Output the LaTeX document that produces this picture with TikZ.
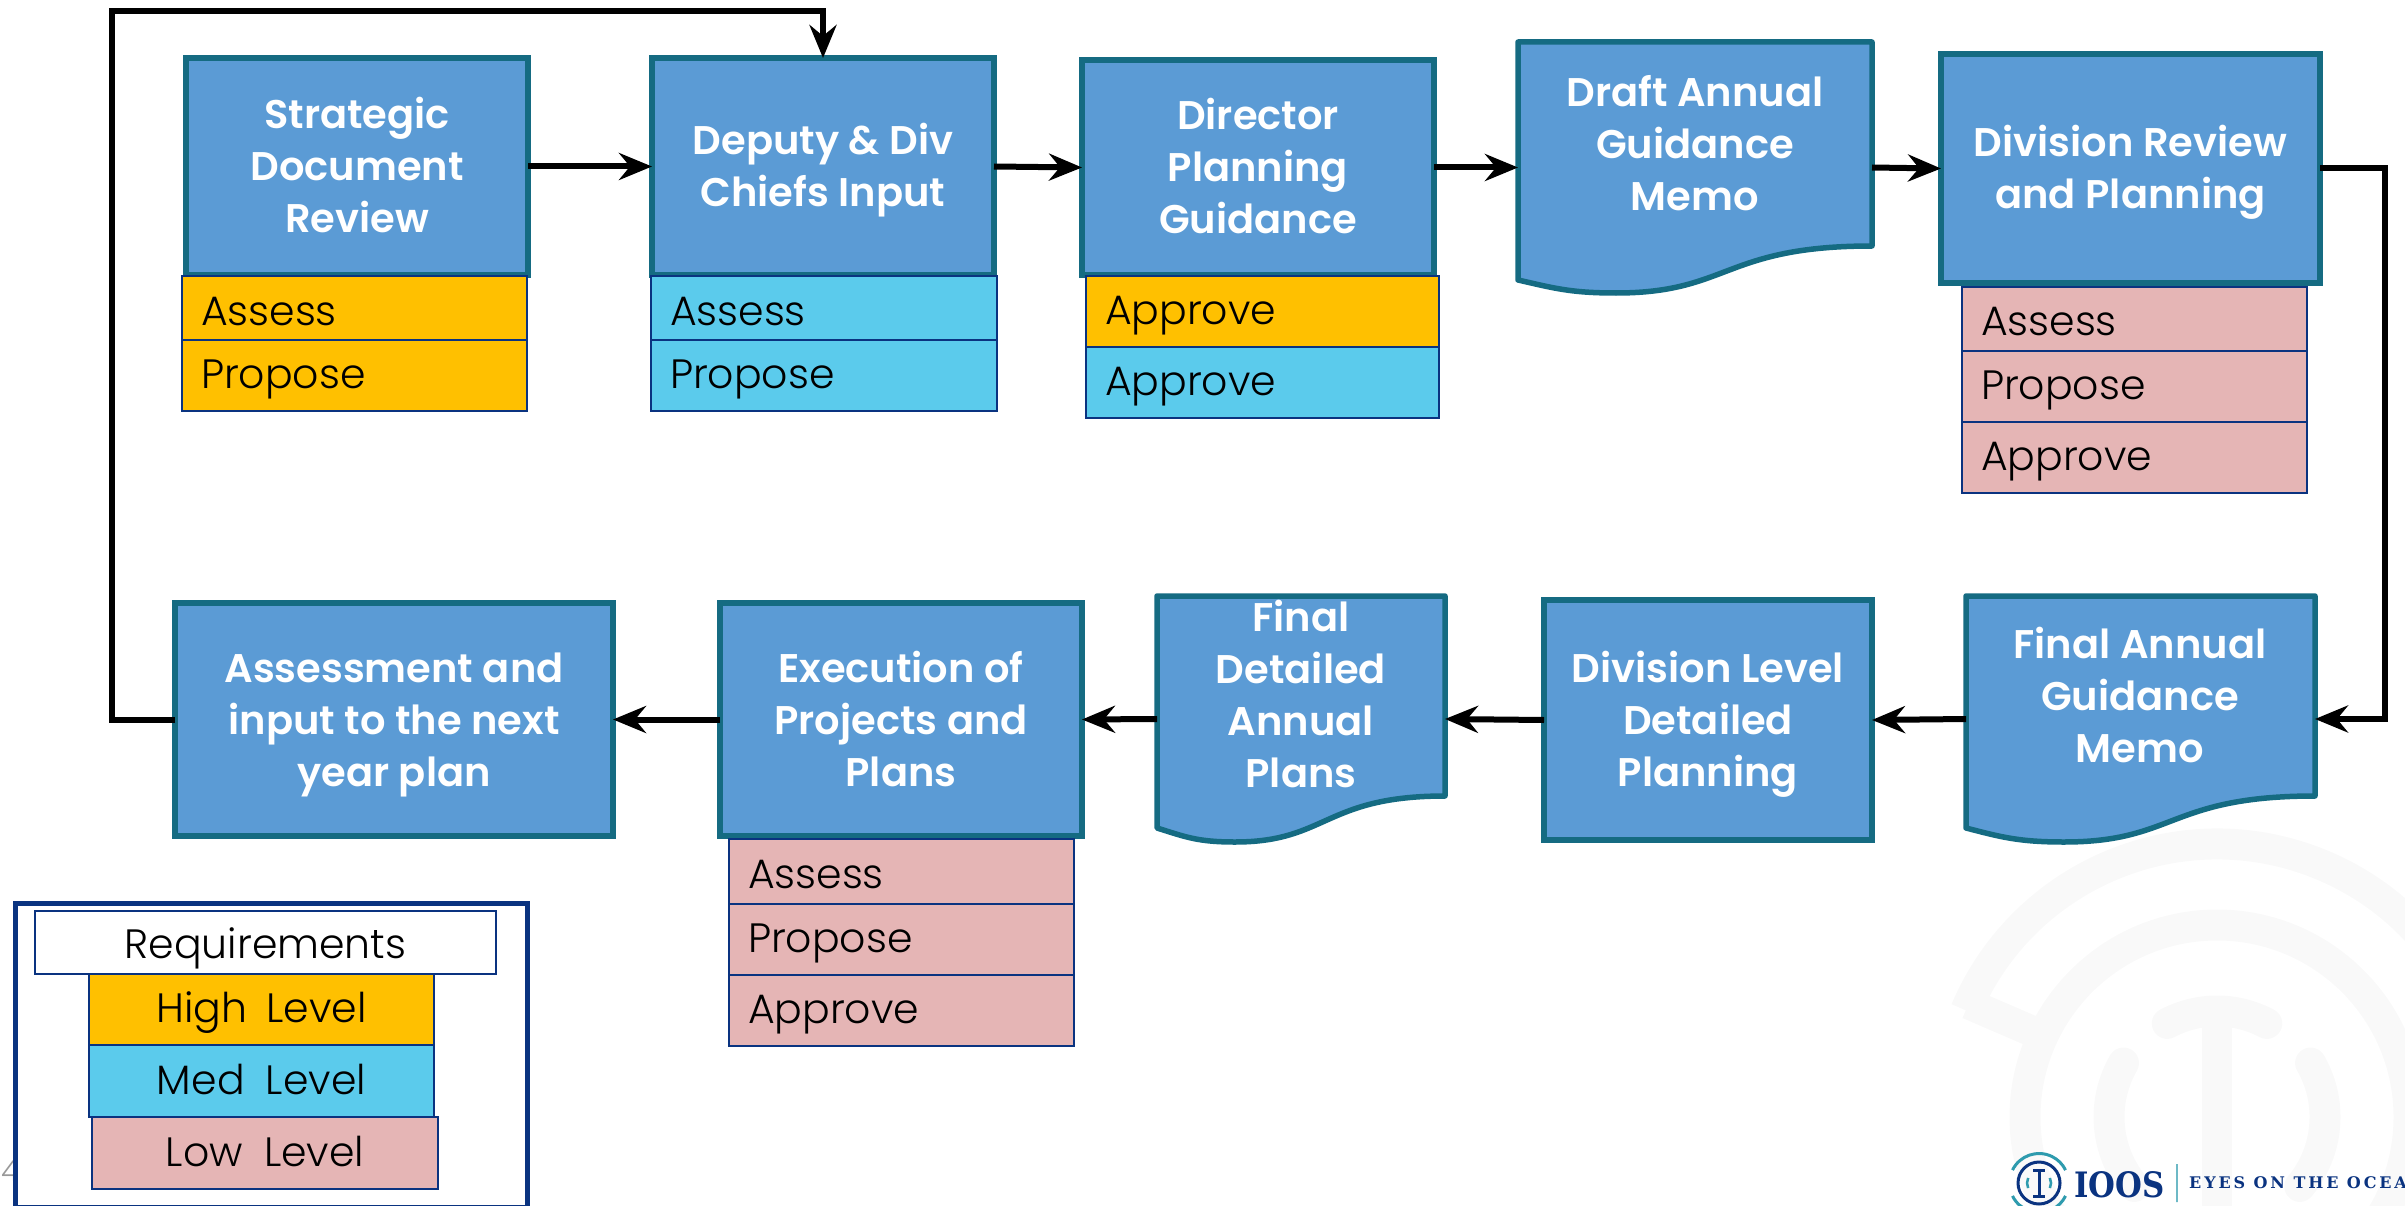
\documentclass[tikz,border=0pt]{standalone}
\usepackage{fontspec}
\setmainfont{Poppins Light}
\newfontfamily\headf{Poppins SemiBold}
\newfontfamily\logofont{DejaVu Serif}
\usetikzlibrary{arrows.meta}
\definecolor{boxfill}{HTML}{5B9BD5}
\definecolor{boxline}{HTML}{156B82}
\definecolor{navy}{HTML}{0A3380}
\definecolor{hi}{HTML}{FFC000}
\definecolor{med}{HTML}{5BCBEC}
\definecolor{lo}{HTML}{E5B5B5}
\definecolor{wm}{HTML}{F9F9F9}
\definecolor{logoteal}{HTML}{2E9BAE}
\newcommand{\capline}[1]{\rule[-11.5pt]{0pt}{52pt}#1}
\newcommand{\nudge}[2]{\raisebox{#1pt}{#2}}
\tikzset{
  boxtext/.style={font=\fontsize{40}{52}\selectfont\headf,text=white,align=center,inner sep=0pt},
  proc/.style={boxtext,draw=boxline,fill=boxfill,line width=5.5pt,outer sep=0pt,miter limit=10},
  memoshape/.style={draw=boxline,fill=boxfill,line width=5.5pt,line join=round},
  bounds/.style={inner sep=0pt,outer sep=0pt},
  stripbox/.style={draw=navy,line width=1.8pt,outer sep=0pt,inner sep=0pt,font=\fontsize{41}{48}\selectfont,text=black,text height=29pt,text depth=0pt},
  flow/.style={draw=black,line width=6pt,-{Stealth[length=33pt,width=27pt,inset=11pt]},line join=miter},
  wmring/.style={draw=wm,line width=31pt},
  wmcap/.style={draw=wm,line width=31pt,line cap=round},
}
\newcommand{\procbox}[6]{\node[proc,minimum width={(#4-#2)*1pt},minimum height={(#5-#3)*1pt}] (#1) at ({(#2+#4)/2},{(#3+#5)/2}) {#6};}
\newcommand{\stripleft}[7]{\node[stripbox,fill=#6,minimum width={(#4-#2)*1pt},minimum height={(#5-#3)*1pt},text width={(#4-#2-38)*1pt},align=left] (#1) at ({(#2+#4)/2},{(#3+#5)/2}) {#7};}
\newcommand{\stripmid}[7]{\node[stripbox,fill=#6,minimum width={(#4-#2)*1pt},minimum height={(#5-#3)*1pt},align=center] (#1) at ({(#2+#4)/2},{(#3+#5)/2}) {#7};}
% name, x1,y1,x2, yrightbottom, ylow, xlow, yleftbottom
\newcommand{\memo}[8]{\draw[memoshape] (#2,#3) -- (#4,#3) -- (#4,#5) .. controls ({#4-0.42*(#4-#2)},#5) and ({#7+0.32*(#4-#2)},#6) .. (#7,#6) .. controls ({#7-0.13*(#4-#2)},#6) and ({#2+0.1*(#4-#2)},{#6-5}) .. (#2,#8) -- cycle;
\node[bounds,minimum width={(#4-#2)*1pt},minimum height={(#6-#3)*1pt}] (#1) at ({(#2+#4)/2},{(#3+#6)/2}) {};}
\begin{document}
\begin{tikzpicture}[x=1pt,y=-1pt]
\useasboundingbox (0,0) rectangle (2405,1206);
\clip (0,0) rectangle (2405,1206);
% watermark
\begin{scope}[shift={(2217,1117)},x=1pt,y=1pt]
  \draw[wmring] (157:273) arc[start angle=157,end angle=-20,radius=273pt];
  \draw[wmring] (0:192) arc[start angle=0,end angle=360,radius=192pt];
  \draw[wm,line width=31pt] (155.5:273) -- (155:190);
  \draw[wmcap] (118:106) arc[start angle=118,end angle=62,radius=106pt];
  \draw[wmcap] (150:108) arc[start angle=150,end angle=220,radius=108pt];
  \draw[wmcap] (30:108) arc[start angle=30,end angle=-40,radius=108pt];
  \draw[wm,line width=30pt] (0,106) -- (0,-100);
\end{scope}
% process boxes
\procbox{strat}{186}{58}{528}{275}{\capline{Strategic}\\\capline{Document}\\\capline{Review}}
\procbox{deputy}{652}{58}{994}{275}{\capline{Deputy \& Div}\\\capline{Chiefs Input}}
\procbox{director}{1082}{60}{1434}{275}{\capline{Director}\\\capline{Planning}\\\capline{Guidance}}
\memo{draft}{1518}{42}{1872}{246}{293}{1616}{280}
\node[boxtext] (draftT) at (1695,144) {\capline{Draft Annual}\\\capline{Guidance}\\\capline{Memo}};
\procbox{divrev}{1941}{54}{2320}{283}{\capline{Division Review}\\\capline{and Planning}}
\memo{finalm}{1966}{596}{2315}{796}{842}{2064}{828}
\node[boxtext] (finalmT) at (2140,696) {\capline{Final Annual}\\\capline{Guidance}\\\capline{Memo}};
\procbox{divlev}{1544}{600}{1872}{840}{\capline{Division Level}\\\capline{Detailed}\\\capline{Planning}}
\memo{finald}{1157}{596}{1445}{796}{842}{1235}{828}
\node[boxtext] (finaldT) at (1301,695) {\capline{Final}\\\capline{Detailed}\\\capline{Annual}\\\capline{Plans}};
\procbox{exec}{720}{603}{1082}{836}{\capline{Execution of}\\\capline{Projects and}\\\capline{Plans}}
\procbox{assess}{175}{603}{613}{836}{\capline{Assessment and}\\\capline{input to the next}\\\capline{year plan}}
% requirement strips
\stripleft{s1a}{182}{276}{527}{340}{hi}{\nudge{-3}{Assess}}
\stripleft{s1b}{182}{340}{527}{411}{hi}{\nudge{1.5}{Propose}}
\stripleft{s2a}{651}{276}{997}{340}{med}{\nudge{-3}{Assess}}
\stripleft{s2b}{651}{340}{997}{411}{med}{\nudge{1.5}{Propose}}
\stripleft{s3a}{1086}{276}{1439}{347}{hi}{\nudge{1.5}{Approve}}
\stripleft{s3b}{1086}{347}{1439}{418}{med}{\nudge{1.5}{Approve}}
\stripleft{s5a}{1962}{287}{2307}{351}{lo}{\nudge{-2}{Assess}}
\stripleft{s5b}{1962}{351}{2307}{422}{lo}{\nudge{1.5}{Propose}}
\stripleft{s5c}{1962}{422}{2307}{493}{lo}{\nudge{1.5}{Approve}}
\stripleft{s8a}{729}{839}{1074}{904}{lo}{\nudge{-2}{Assess}}
\stripleft{s8b}{729}{904}{1074}{975}{lo}{\nudge{1.5}{Propose}}
\stripleft{s8c}{729}{975}{1074}{1046}{lo}{\nudge{1.5}{Approve}}
% connectors
\coordinate (loopcorner) at (112,11);
\coordinate (rightrun) at (2385,440);
\draw[flow] (strat.east) -- (deputy.west);
\draw[flow] (deputy.east) -- (director.west);
\draw[flow] (director.east) -- (draft.west);
\draw[flow] (draft.east) -- (divrev.west);
\draw[flow] (divrev.east) -| (rightrun) |- (finalm.east);
\draw[flow] (finalm.west) -- (divlev.east);
\draw[flow] (divlev.west) -- (finald.east);
\draw[flow] (finald.west) -- (exec.east);
\draw[flow] (exec.west) -- (assess.east);
\draw[flow] (assess.west) -| (loopcorner) -| (deputy.north);
% page number
\node[inner sep=0pt,anchor=west,text=black!40,font=\fontsize{29}{36}\selectfont] (pagenum) at (1,1171) {4};
% legend
\node[draw=navy,fill=white,line width=5pt,minimum width=512pt,minimum height=304pt,outer sep=0pt] (legend) at (271,1055) {};
\stripmid{lreq}{35}{911}{496}{974}{white}{\nudge{-1.5}{Requirements}}
\stripmid{lhi}{89}{974}{434}{1045}{hi}{\nudge{1.5}{High\hspace{8pt} Level}}
\stripmid{lmed}{89}{1045}{434}{1117}{med}{\nudge{1.5}{Med\hspace{10pt} Level}}
\stripmid{llo}{92}{1117}{438}{1189}{lo}{\nudge{1.5}{Low\hspace{10pt} Level}}
% logo
\begin{scope}[shift={(2039,1183)},x=1pt,y=1pt]
  \draw[navy,line width=3pt] (0,0) circle[radius=21pt];
  \draw[logoteal,line width=3pt] (154:29.5) arc[start angle=154,end angle=26,radius=29.5pt];
  \draw[logoteal,line width=3pt] (206:29.5) arc[start angle=206,end angle=334,radius=29.5pt];
  \draw[logoteal,line width=2.5pt] (155:12) arc[start angle=155,end angle=205,radius=12pt];
  \draw[logoteal,line width=2.5pt] (25:12) arc[start angle=25,end angle=-25,radius=12pt];
  \draw[navy,line width=3pt] (0,13) -- (0,-13) (-6,13) -- (6,13) (-6,-13) -- (6,-13);
\end{scope}
\node[inner sep=0pt,anchor=base west,text=navy,font=\logofont\bfseries\fontsize{35}{40}\selectfont\addfontfeature{FakeStretch=0.88}] (ioos) at (2074,1197) {IOOS};
\node[draw=logoteal!70,line width=1.2pt,inner sep=0pt,minimum width=0pt,minimum height=38pt] (logosep) at (2177,1183) {};
\node[inner sep=0pt,anchor=base west,text=navy,font=\logofont\bfseries\fontsize{16}{20}\selectfont\addfontfeature{LetterSpace=18}] (eyes) at (2189,1188) {EYES ON THE OCEAN};
\end{tikzpicture}
\end{document}
